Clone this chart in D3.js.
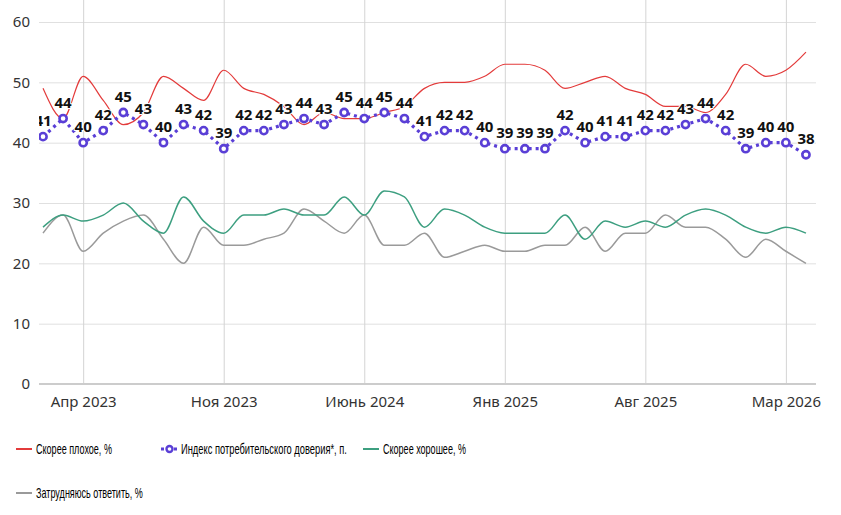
<!DOCTYPE html>
<html>
<head>
<meta charset="utf-8">
<script src="https://cdn.jsdelivr.net/npm/d3@7"></script>
<style>
  body { margin: 0; background: #fff; }
  svg { display: block; }
</style>
</head>
<body>
<div id="chart"></div>
<script>
const months = [
  "2023-02", "2023-03", "2023-04", "2023-05", "2023-06", "2023-07", "2023-08", "2023-09", "2023-10", "2023-11",
  "2023-12", "2024-01", "2024-02", "2024-03", "2024-04", "2024-05", "2024-06", "2024-07", "2024-08", "2024-09",
  "2024-10", "2024-11", "2024-12", "2025-01", "2025-02", "2025-03", "2025-04", "2025-05", "2025-06", "2025-07",
  "2025-08", "2025-09", "2025-10", "2025-11", "2025-12", "2026-01", "2026-02", "2026-03", "2026-04"
];

// Скорее плохое, %
const bad = [49, 44, 51, 47, 43, 45, 51, 49, 47, 52, 49, 48, 46, 43, 45, 44, 44, 45, 46, 49,
  50, 50, 51, 53, 53, 52, 49, 50, 51, 49, 48, 46, 46, 45, 48, 53, 51, 52, 55];
// Индекс потребительского доверия*, п.
const index = [41, 44, 40, 42, 45, 43, 40, 43, 42, 39, 42, 42, 43, 44, 43, 45, 44, 45, 44, 41,
  42, 42, 40, 39, 39, 39, 42, 40, 41, 41, 42, 42, 43, 44, 42, 39, 40, 40, 38];
// Скорее хорошее, %
const good = [26, 28, 27, 28, 30, 27, 25, 31, 27, 25, 28, 28, 29, 28, 28, 31, 28, 32, 31, 26,
  29, 28, 26, 25, 25, 25, 28, 24, 27, 26, 27, 26, 28, 29, 28, 26, 25, 26, 25];
// Затрудняюсь ответить, %
const hard = [25, 28, 22, 25, 27, 28, 24, 20, 26, 23, 23, 24, 25, 29, 27, 25, 28, 23, 23, 25,
  21, 22, 23, 22, 22, 23, 23, 26, 22, 25, 25, 28, 26, 26, 24, 21, 24, 22, 20];

const tickMonths = ["2023-04", "2023-11", "2024-06", "2025-01", "2025-08", "2026-03"];
const tickLabels = ["Апр 2023", "Ноя 2023", "Июнь 2024", "Янв 2025", "Авг 2025", "Мар 2026"];
const yTicks = [0, 10, 20, 30, 40, 50, 60];

const width = 841;
const height = 515;
const left = 39, right = 816, bottom = 384;

const svg = d3.select("#chart")
  .append("svg")
  .attr("width", width)
  .attr("height", height);

const x = d3.scaleLinear().domain([-0.2, 38.5]).range([left, right]);
const y = d3.scaleLinear().domain([0, 60]).range([bottom, 22]);
const xi = (m) => x(months.indexOf(m));

// grid
const yAxis = svg.append("g")
  .attr("transform", `translate(${left},0)`)
  .call(d3.axisLeft(y).tickValues(yTicks).tickSize(-(right - left)).tickPadding(9));
yAxis.select(".domain").remove();
yAxis.selectAll(".tick line").attr("stroke", "#e0e0e0");
yAxis.selectAll(".tick text")
  .attr("fill", "#333")
  .style("font", "15px 'Noto Sans', sans-serif");

const xAxis = svg.append("g")
  .attr("transform", `translate(0,${bottom})`)
  .call(d3.axisBottom(x)
    .tickValues(tickMonths.map((m) => months.indexOf(m)))
    .tickFormat((d, i) => tickLabels[i])
    .tickSize(-bottom)
    .tickPadding(12));
xAxis.select(".domain").remove();
xAxis.selectAll(".tick line").attr("stroke", "#d4d4d4");
xAxis.selectAll(".tick text")
  .attr("fill", "#333")
  .style("font", "15px 'Noto Sans', sans-serif");

svg.append("line")
  .attr("x1", left).attr("x2", right)
  .attr("y1", bottom).attr("y2", bottom)
  .attr("stroke", "#ccc")
  .attr("stroke-width", 2);

svg.append("clipPath").attr("id", "plot")
  .append("rect")
  .attr("x", left).attr("y", 0)
  .attr("width", right - left).attr("height", bottom);

const plot = svg.append("g").attr("clip-path", "url(#plot)");

const line = d3.line()
  .x((d, i) => xi(months[i]))
  .y((d) => y(d))
  .curve(d3.curveMonotoneX);

const series = [
  { values: hard, color: "#9a9a9a", w: 1.5 },
  { values: good, color: "#3d9f80", w: 1.5 },
  { values: bad, color: "#e33b3b", w: 1.2 }
];

series.forEach((s) => {
  plot.append("path")
    .attr("d", line(s.values))
    .attr("fill", "none")
    .attr("stroke", s.color)
    .attr("stroke-width", s.w);
});

const blue = "#5a3fd6";
plot.append("path")
  .attr("d", d3.line().x((d, i) => xi(months[i])).y((d) => y(d))(index))
  .attr("fill", "none")
  .attr("stroke", blue)
  .attr("stroke-width", 3.2)
  .attr("stroke-dasharray", "3 4");

plot.selectAll("circle.pt")
  .data(index)
  .join("circle")
  .attr("class", "pt")
  .attr("cx", (d, i) => xi(months[i]))
  .attr("cy", (d) => y(d))
  .attr("r", 3.6)
  .attr("fill", "#fff")
  .attr("stroke", blue)
  .attr("stroke-width", 2.6);

plot.selectAll("text.lbl")
  .data(index)
  .join("text")
  .attr("class", "lbl")
  .attr("x", (d, i) => xi(months[i]))
  .attr("y", (d) => y(d) - 11)
  .attr("text-anchor", "middle")
  .style("font", "bold 15px 'Open Sans', sans-serif")
  .style("paint-order", "stroke")
  .attr("stroke", "#fff")
  .attr("stroke-width", 2)
  .attr("stroke-linejoin", "round")
  .attr("fill", "#111")
  .text((d) => d);

// legend
const legendItems = [
  { name: "Скорее плохое, %", color: "#e33b3b", type: "line", x: 16, y: 449, w: 76 },
  { name: "Индекс потребительского доверия*, п.", color: blue, type: "dots", x: 161, y: 449, w: 166 },
  { name: "Скорее хорошее, %", color: "#3d9f80", type: "line", x: 363, y: 449, w: 83 },
  { name: "Затрудняюсь ответить, %", color: "#9a9a9a", type: "line", x: 16, y: 493, w: 107 }
];

const lg = svg.selectAll("g.legend")
  .data(legendItems)
  .join("g")
  .attr("class", "legend")
  .attr("transform", (d) => `translate(${d.x},${d.y})`);

lg.filter((d) => d.type === "line")
  .append("line")
  .attr("x1", 0).attr("x2", 16)
  .attr("stroke", (d) => d.color)
  .attr("stroke-width", 2);

const dots = lg.filter((d) => d.type === "dots");
dots.append("line")
  .attr("x1", 0).attr("x2", 16)
  .attr("stroke", blue)
  .attr("stroke-width", 3)
  .attr("stroke-dasharray", "3 10");
dots.append("circle")
  .attr("cx", 8.5).attr("r", 3)
  .attr("fill", "#fff")
  .attr("stroke", blue)
  .attr("stroke-width", 2.4);

// condensed look: squeeze each label to the width it has in the original
lg.append("text")
  .style("font", "15px 'Liberation Sans', sans-serif")
  .attr("fill", "#000")
  .text((d) => d.name)
  .attr("transform", function (d) {
    const k = d.w / this.getComputedTextLength();
    return `translate(20,5) scale(${k},1)`;
  });
</script>
</body>
</html>
